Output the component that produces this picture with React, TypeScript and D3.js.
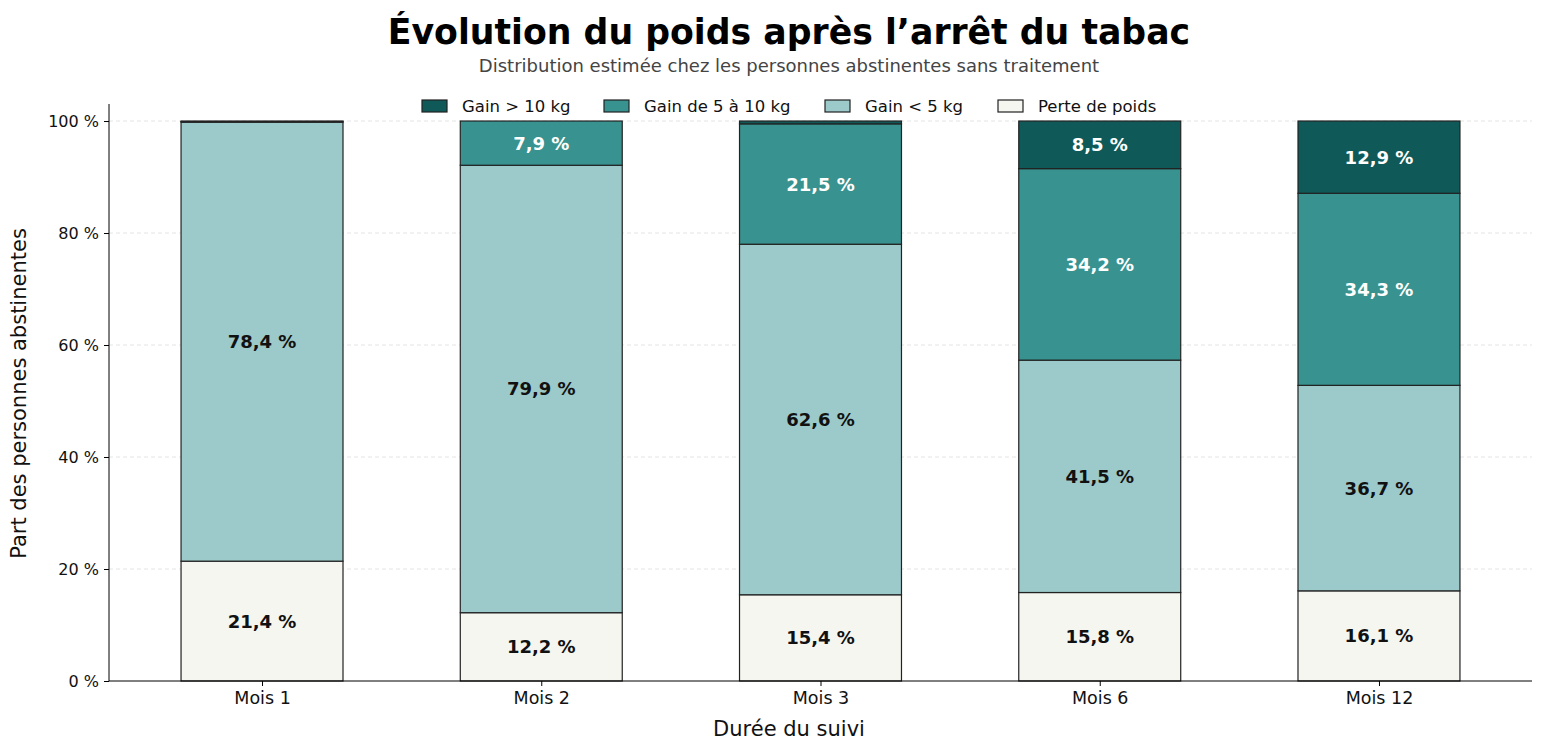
import * as d3 from "d3";
import { useEffect, useRef } from "react";

const months = ["Mois 1", "Mois 2", "Mois 3", "Mois 6", "Mois 12"];
const seriesNames = ["Perte de poids", "Gain < 5 kg", "Gain de 5 à 10 kg", "Gain > 10 kg"];
const seriesColors = ["#f6f6f1", "#9cc9c9", "#38928f", "#0f5a59"];
const textColors = ["#111111", "#111111", "#ffffff", "#ffffff"];
const perte = [21.4, 12.2, 15.4, 15.8, 16.1];
const gainMoins5 = [78.4, 79.9, 62.6, 41.5, 36.7];
const gain5a10 = [0.1, 7.9, 21.5, 34.2, 34.3];
const gainPlus10 = [0.1, 0.0, 0.5, 8.5, 12.9];
const yTicks = [0, 20, 40, 60, 80, 100];

const W = 1542;
const H = 749;
const FONT = "'DejaVu Sans', sans-serif";

export default function App() {
  const ref = useRef<SVGSVGElement>(null);

  useEffect(() => {
    if (!ref.current) return;
    const svg = d3.select(ref.current);
    svg.selectAll("*").remove();

    const left = 109, right = 1532, top = 104, bottom = 681;
    const x = d3.scaleLinear().domain([-0.548, 4.548]).range([left, right]);
    const y = d3.scaleLinear().domain([0, 103.04]).range([bottom, top]);
    const barW = x(0.58) - x(0);

    const values = [perte, gainMoins5, gain5a10, gainPlus10];
    const rows = months.map((m, i) => {
      const r: any = { month: m, idx: i };
      seriesNames.forEach((s, k) => (r[s] = values[k][i]));
      return r;
    });
    const stacked = d3.stack<any>().keys(seriesNames)(rows);

    // grid
    svg.append("g")
      .selectAll("line")
      .data(yTicks.filter(t => t > 0))
      .join("line")
      .attr("x1", left).attr("x2", right)
      .attr("y1", d => y(d)).attr("y2", d => y(d))
      .attr("stroke", "#dddddd").attr("stroke-width", 0.8)
      .attr("stroke-dasharray", "4,3");

    // bars
    stacked.forEach((layer, k) => {
      const g = svg.append("g");
      g.selectAll("rect")
        .data(layer)
        .join("rect")
        .attr("x", (d: any) => x(d.data.idx) - barW / 2)
        .attr("y", d => y(d[1]))
        .attr("width", barW)
        .attr("height", d => Math.max(0, y(d[0]) - y(d[1])))
        .attr("fill", seriesColors[k])
        .attr("stroke", "#222222")
        .attr("stroke-width", 1.2);
      g.selectAll("text")
        .data(layer.filter(d => d[1] - d[0] >= 3))
        .join("text")
        .attr("x", (d: any) => x(d.data.idx))
        .attr("y", d => y((d[0] + d[1]) / 2))
        .attr("dy", "0.36em")
        .attr("text-anchor", "middle")
        .attr("font-family", FONT)
        .attr("font-size", 18)
        .attr("font-weight", "bold")
        .attr("fill", textColors[k])
        .text(d => `${d3.format(".1f")(d[1] - d[0]).replace(".", ",")} %`);
    });

    // axes
    const yAxis = svg.append("g").attr("transform", `translate(${left},0)`)
      .call(d3.axisLeft(y).tickValues(yTicks).tickSize(5).tickPadding(5).tickFormat(d => `${d} %`));
    yAxis.select(".domain").attr("d", `M0,${top}V${bottom}`).attr("stroke", "#000");
    yAxis.selectAll("text").attr("font-family", FONT).attr("font-size", 16).attr("fill", "#111");

    const xAxis = svg.append("g").attr("transform", `translate(0,${bottom})`)
      .call(d3.axisBottom(x).tickValues(d3.range(months.length)).tickSize(5).tickPadding(6).tickFormat((d: any) => months[d]));
    xAxis.select(".domain").attr("d", `M${left},0H${right}`).attr("stroke", "#000");
    xAxis.selectAll("text").attr("font-family", FONT).attr("font-size", 17.5).attr("fill", "#111");

    // titles
    svg.append("text").attr("x", 789).attr("y", 44).attr("text-anchor", "middle")
      .attr("font-family", FONT).attr("font-size", 34.7).attr("font-weight", "bold").attr("fill", "#000")
      .text("Évolution du poids après l’arrêt du tabac");
    svg.append("text").attr("x", 789).attr("y", 72).attr("text-anchor", "middle")
      .attr("font-family", FONT).attr("font-size", 18).attr("fill", "#444")
      .text("Distribution estimée chez les personnes abstinentes sans traitement");
    svg.append("text").attr("x", 789).attr("y", 736).attr("text-anchor", "middle")
      .attr("font-family", FONT).attr("font-size", 21).attr("fill", "#111")
      .text("Durée du suivi");
    svg.append("text").attr("transform", `translate(26,${(top + bottom) / 2 + 1}) rotate(-90)`)
      .attr("text-anchor", "middle")
      .attr("font-family", FONT).attr("font-size", 21).attr("fill", "#111")
      .text("Part des personnes abstinentes");

    // legend
    const legendOrder = [3, 2, 1, 0];
    const legendX = [422, 604, 825, 998];
    const lg = svg.append("g");
    legendOrder.forEach((k, i) => {
      lg.append("rect").attr("x", legendX[i]).attr("y", 100).attr("width", 25).attr("height", 12)
        .attr("fill", seriesColors[k]).attr("stroke", "#222").attr("stroke-width", 1.2);
      lg.append("text").attr("x", legendX[i] + 40).attr("y", 106).attr("dy", "0.36em")
        .attr("font-family", FONT).attr("font-size", 16.5).attr("fill", "#111")
        .text(seriesNames[k]);
    });
  }, []);

  return (
    <svg ref={ref} width={W} height={H} viewBox={`0 0 ${W} ${H}`}
      style={{ display: "block", position: "absolute", left: 0, top: 0, background: "#fff" }} />
  );
}
